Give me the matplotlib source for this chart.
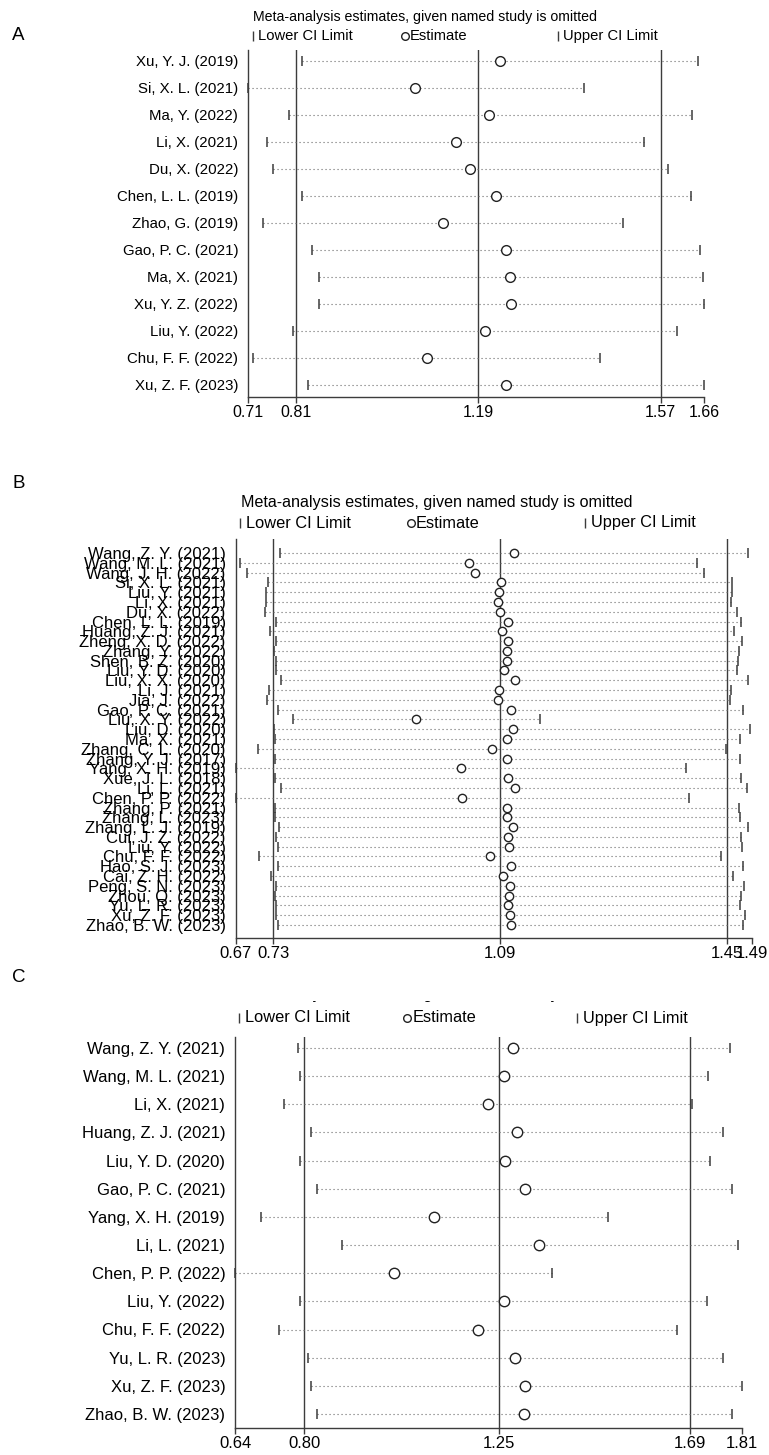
import matplotlib
matplotlib.use("Agg")
import matplotlib.pyplot as plt
from matplotlib import font_manager
from matplotlib.patches import Rectangle

# pick a narrow sans if there is one
installed = {f.name for f in font_manager.fontManager.ttflist}
FONT = "Liberation Sans Narrow" if "Liberation Sans Narrow" in installed else "Liberation Sans"
plt.rcParams["font.family"] = [FONT, "DejaVu Sans"]

TITLE = "Meta-analysis estimates, given named study is omitted"

# ---- panel A
studies_a = ["Xu, Y. J. (2019)", "Si, X. L. (2021)", "Ma, Y. (2022)", "Li, X. (2021)",
             "Du, X. (2022)", "Chen, L. L. (2019)", "Zhao, G. (2019)", "Gao, P. C. (2021)",
             "Ma, X. (2021)", "Xu, Y. Z. (2022)", "Liu, Y. (2022)", "Chu, F. F. (2022)",
             "Xu, Z. F. (2023)"]
lower_a = [0.822, 0.71, 0.795, 0.750, 0.762, 0.822, 0.742, 0.843, 0.858, 0.858, 0.803, 0.72, 0.835]
est_a = [1.234, 1.058, 1.213, 1.144, 1.173, 1.227, 1.116, 1.247, 1.256, 1.257, 1.203, 1.083, 1.247]
upper_a = [1.647, 1.409, 1.634, 1.536, 1.584, 1.632, 1.491, 1.652, 1.658, 1.66, 1.604, 1.444, 1.66]
ticks_a = [0.71, 0.81, 1.19, 1.57, 1.66]
refs_a = [0.81, 1.19, 1.57]

# ---- panel B
studies_b = ["Wang, Z. Y. (2021)", "Wang, M. L. (2021)", "Wang, J. H. (2022)", "Si, X. L. (2021)",
             "Liu, Y. (2021)", "Li, X. (2021)", "Du, X. (2022)", "Chen, L. L. (2019)",
             "Huang, Z. J. (2021)", "Zheng, X. D. (2022)", "Zhang, Y. (2022)", "Shen, B. Z. (2020)",
             "Liu, Y. D. (2020)", "Liu, X. X. (2020)", "Li, J. (2021)", "Jia, J. (2022)",
             "Gao, P. C. (2021)", "Liu, X. Y. (2022)", "Liu, D. (2020)", "Ma, X. (2021)",
             "Zhang, C. L. (2020)", "Zhang, Y. J. (2017)", "Yang, X. H. (2019)", "Xue, J. L. (2018)",
             "Li, L. (2021)", "Chen, P. P. (2022)", "Zhang, P. (2021)", "Zhang, L. (2023)",
             "Zhang, L. J. (2019)", "Cui, J. Z. (2022)", "Liu, Y. (2022)", "Chu, F. F. (2022)",
             "Hao, S. J. (2023)", "Cai, Z. H. (2022)", "Peng, S. N. (2023)", "Zhou, Q. (2023)",
             "Yu, L. R. (2023)", "Xu, Z. F. (2023)", "Zhao, B. W. (2023)"]
lower_b = [0.741, 0.677, 0.689, 0.722, 0.718, 0.718, 0.717, 0.735, 0.725, 0.734, 0.731, 0.734,
           0.734, 0.742, 0.723, 0.720, 0.738, 0.761, 0.731, 0.732, 0.705, 0.732, 0.67, 0.733,
           0.742, 0.67, 0.732, 0.732, 0.739, 0.735, 0.738, 0.707, 0.738, 0.726, 0.734, 0.733,
           0.734, 0.734, 0.738]
est_b = [1.112, 1.041, 1.051, 1.091, 1.088, 1.087, 1.090, 1.103, 1.093, 1.103, 1.101, 1.101,
         1.097, 1.113, 1.089, 1.087, 1.107, 0.956, 1.110, 1.101, 1.077, 1.101, 1.028, 1.103,
         1.113, 1.030, 1.101, 1.101, 1.111, 1.103, 1.105, 1.074, 1.107, 1.094, 1.106, 1.104,
         1.102, 1.106, 1.107]
upper_b = [1.483, 1.403, 1.414, 1.459, 1.458, 1.457, 1.466, 1.472, 1.462, 1.474, 1.470, 1.468,
           1.466, 1.483, 1.457, 1.455, 1.475, 1.153, 1.487, 1.471, 1.449, 1.471, 1.386, 1.473,
           1.482, 1.390, 1.470, 1.471, 1.483, 1.472, 1.474, 1.441, 1.475, 1.460, 1.478, 1.473,
           1.471, 1.479, 1.475]
ticks_b = [0.67, 0.73, 1.09, 1.45, 1.49]
refs_b = [0.73, 1.09, 1.45]

# ---- panel C
studies_c = ["Wang, Z. Y. (2021)", "Wang, M. L. (2021)", "Li, X. (2021)", "Huang, Z. J. (2021)",
             "Liu, Y. D. (2020)", "Gao, P. C. (2021)", "Yang, X. H. (2019)", "Li, L. (2021)",
             "Chen, P. P. (2022)", "Liu, Y. (2022)", "Chu, F. F. (2022)", "Yu, L. R. (2023)",
             "Xu, Z. F. (2023)", "Zhao, B. W. (2023)"]
lower_c = [0.785, 0.790, 0.754, 0.816, 0.789, 0.830, 0.699, 0.886, 0.64, 0.791, 0.742, 0.809, 0.816, 0.829]
est_c = [1.281, 1.261, 1.224, 1.291, 1.262, 1.310, 1.099, 1.341, 1.007, 1.261, 1.200, 1.287, 1.309, 1.307]
upper_c = [1.782, 1.732, 1.695, 1.766, 1.736, 1.788, 1.501, 1.800, 1.372, 1.730, 1.659, 1.765, 1.81, 1.786]
ticks_c = [0.64, 0.80, 1.25, 1.69, 1.81]
refs_c = [0.80, 1.25, 1.69]

W, H = 769, 1455
fig = plt.figure(figsize=(W / 100, H / 100), dpi=100)
fig.patch.set_facecolor("white")
DARK = "#3c3c3c"


def panel(left, right, top, bottom, y0, dy, names, lo, est, hi, ticks, refs,
          fs_lab, fs_tick, ms_circ):
    ax = fig.add_axes([left / W, 1 - bottom / H, (right - left) / W, (bottom - top) / H])
    n = len(names)
    ax.set_xlim(ticks[0], ticks[-1])
    ax.set_ylim((bottom - y0) / dy, (top - y0) / dy)
    for r in refs:
        ax.axvline(r, color=DARK, lw=1.0, zorder=1)
    for i in range(n):
        ax.plot([lo[i], hi[i]], [i, i], color="#6a6a6a", lw=0.8,
                linestyle=(0, (1, 2.6)), zorder=2, clip_on=False)
        ax.plot([lo[i], hi[i]], [i, i], "|", color=DARK, ms=7, mew=1.1, zorder=3, clip_on=False)
        ax.plot(est[i], i, "o", ms=ms_circ, mfc="white", mec="#222222", mew=1.0, zorder=4, clip_on=False)
    for s in ["top", "right"]:
        ax.spines[s].set_visible(False)
    for s in ["left", "bottom"]:
        ax.spines[s].set_color(DARK)
        ax.spines[s].set_linewidth(1.0)
    ax.set_yticks(range(n))
    ax.set_yticklabels(names, fontsize=fs_lab)
    ax.tick_params(axis="y", length=0, pad=7)
    ax.set_xticks(ticks)
    ax.set_xticklabels([f"{t:.2f}" for t in ticks], fontsize=fs_tick)
    ax.tick_params(axis="x", length=4.5, width=1.0, color=DARK, pad=1.5)
    ax.set_facecolor("none")
    return ax


panel(248, 704, 50, 397, 61, 27.0, studies_a, lower_a, est_a, upper_a, ticks_a, refs_a, 10.8, 11.5, 7)
panel(235.5, 752, 539, 938, 553, 9.79, studies_b, lower_b, est_b, upper_b, ticks_b, refs_b, 12, 12, 6)
panel(235, 742, 1037, 1428, 1048, 28.15, studies_c, lower_c, est_c, upper_c, ticks_c, refs_c, 12, 12, 7.5)

# overlay in pixel coordinates for titles, legends and panel letters
ov = fig.add_axes([0, 0, 1, 1], zorder=10)
ov.set_xlim(0, W)
ov.set_ylim(H, 0)
ov.axis("off")
ov.patch.set_alpha(0)


def legend(y, xbar, xlow, xcirc, xest, xbar2, xup, fs):
    ov.plot([xbar, xbar2], [y, y], "|", color=DARK, ms=6.5, mew=1.0)
    ov.plot(xcirc, y, "o", ms=5.5, mfc="white", mec="#222222", mew=1.0)
    ov.text(xlow, y, "Lower CI Limit", fontsize=fs, va="center", ha="left")
    ov.text(xest, y, "Estimate", fontsize=fs, va="center", ha="left")
    ov.text(xup, y, "Upper CI Limit", fontsize=fs, va="center", ha="left")


ov.text(253, 17, TITLE, fontsize=10.2, va="center", ha="left")
legend(36, 253, 258, 405, 410, 558, 563, 10.6)
ov.text(241, 502, TITLE, fontsize=11.6, va="center", ha="left")
legend(523, 240, 246, 411, 416, 585, 591, 11.8)
# panel C title is cut off in the source: only the descenders show
t = ov.text(241, 999.5, TITLE, fontsize=11.6, va="baseline", ha="left")
t.set_clip_on(True)
t.set_clip_path(Rectangle((0, 1000.5), W, 8, transform=ov.transData))
legend(1018, 239, 245, 407, 413, 577, 583, 11.8)

for letter, y in [("A", 36), ("B", 484), ("C", 977)]:
    ov.text(12, y, letter, fontsize=13.5, va="center", ha="left")

fig.savefig("out.png", dpi=100)
